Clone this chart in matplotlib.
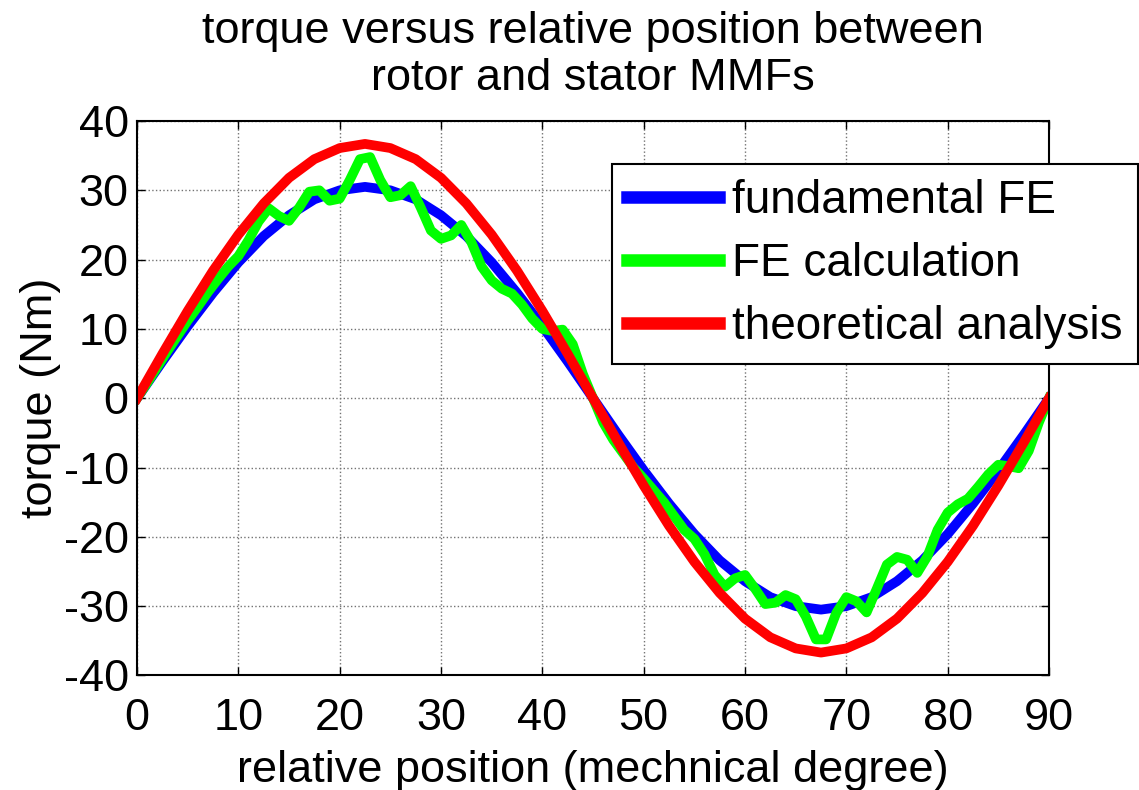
import matplotlib
matplotlib.use('Agg')
from matplotlib import pyplot as plt

plt.rcParams['font.family'] = ['Liberation Sans', 'DejaVu Sans']
plt.rcParams['axes.unicode_minus'] = False

# relative position (deg) for the smooth curves
x_smooth = [0, 2.5, 5, 7.5, 10, 12.5, 15, 17.5, 20, 22.5, 25, 27.5, 30, 32.5, 35, 37.5, 40, 42.5,
            45, 47.5, 50, 52.5, 55, 57.5, 60, 62.5, 65, 67.5, 70, 72.5, 75, 77.5, 80, 82.5, 85, 87.5, 90]
fundamental = [0, 5.3, 10.4, 15.2, 19.6, 23.4, 26.4, 28.7, 30.0, 30.5, 30.0, 28.7, 26.4, 23.4, 19.6, 15.2, 10.4, 5.3,
               0, -5.3, -10.4, -15.2, -19.6, -23.4, -26.4, -28.7, -30.0, -30.5, -30.0, -28.7, -26.4, -23.4, -19.6, -15.2, -10.4, -5.3, 0]
theoretical = [0, 6.4, 12.6, 18.4, 23.6, 28.1, 31.8, 34.5, 36.1, 36.7, 36.1, 34.5, 31.8, 28.1, 23.6, 18.4, 12.6, 6.4,
               0, -6.4, -12.6, -18.4, -23.6, -28.1, -31.8, -34.5, -36.1, -36.7, -36.1, -34.5, -31.8, -28.1, -23.6, -18.4, -12.6, -6.4, 0]

# FE calculation, one point per degree
x_fe = list(range(0, 91))
fe_calc = [0, 2.2, 4.5, 6.8, 9.0, 11.2, 13.2, 15.3, 17.2, 19.0,
           20.5, 22.8, 25.5, 27.4, 26.3, 25.6, 27.5, 29.8, 30.0, 28.5,
           28.8, 31.5, 34.5, 34.8, 31.5, 29.0, 29.3, 30.6, 27.5, 24.2,
           23.0, 23.5, 25.0, 22.5, 19.0, 17.0, 15.8, 15.1, 13.5, 11.5,
           10.0, 9.7, 9.9, 7.8, 3.5, 0, -3.5, -6.0, -8.0, -10.0,
           -11.6, -13.3, -15.0, -17.0, -19.0, -20.3, -22.5, -25.5, -27.2, -26.0,
           -25.5, -27.5, -29.7, -29.5, -28.4, -29.0, -31.5, -34.8, -34.8, -31.0,
           -28.7, -29.3, -30.9, -27.5, -24.0, -22.9, -23.3, -25.2, -22.8, -19.0,
           -16.5, -15.3, -14.5, -12.8, -11.0, -9.6, -9.8, -10.1, -7.6, -3.5, 0]

fig = plt.figure(figsize=(11.39, 7.9), dpi=100)
ax = fig.add_axes([0.1203, 0.145, 0.8007, 0.7018])

lw = 7
ax.plot(x_smooth, fundamental, color='#0000ff', lw=lw, solid_joinstyle='round', label='fundamental FE')
ax.plot(x_fe, fe_calc, color='#00ff00', lw=lw, solid_joinstyle='round', label='FE calculation')
ax.plot(x_smooth, theoretical, color='#ff0000', lw=lw, solid_joinstyle='round', label='theoretical analysis')

ax.set_xlim(0, 90)
ax.set_ylim(-40, 40)
ax.set_xticks(range(0, 91, 10))
ax.set_yticks(range(-40, 41, 10))
ax.grid(True, color='0.45', linestyle=':', linewidth=1.0)
ax.tick_params(direction='in', top=True, right=True, length=6, width=1, labelsize=32.5)
ax.tick_params(axis='x', pad=16)
ax.tick_params(axis='y', pad=6)
for s in ax.spines.values():
    s.set_linewidth(1.5)

ax.set_xlabel('relative position (mechnical degree)', fontsize=32.5, labelpad=8)
ax.set_ylabel('torque (Nm)', fontsize=32.5, labelpad=2)
ax.set_title('torque versus relative position between\nrotor and stator MMFs', fontsize=32.5,
             linespacing=1.2, pad=22)

leg = ax.legend(loc='upper right', bbox_to_anchor=(1138 / 1139, 1 - 164 / 790),
                bbox_transform=fig.transFigure, fontsize=33, frameon=True, fancybox=False,
                framealpha=1, edgecolor='black', handlelength=2.0, handletextpad=0.3,
                labelspacing=0.41, borderpad=0.33, borderaxespad=0)
leg.get_frame().set_linewidth(1.5)
for line in leg.get_lines():
    line.set_linewidth(9)

fig.savefig('out.png', dpi=100)
